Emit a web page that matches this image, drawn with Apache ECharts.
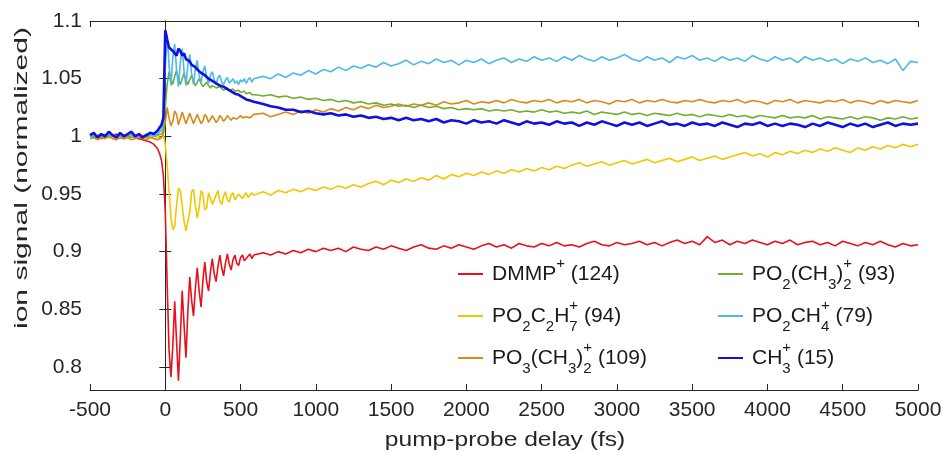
<!DOCTYPE html>
<html>
<head>
<meta charset="utf-8">
<script src="https://cdn.jsdelivr.net/npm/echarts@6/dist/echarts.min.js"></script>
<style>
  html, body { margin: 0; padding: 0; background: #fff; }
  #chart { width: 945px; height: 452px; }
</style>
</head>
<body>
<div id="chart"></div>
<script>
// pump-probe delays (fs): coarse before t0, fine over the wave packet, coarse afterwards
const delays = [
  -500, -475, -450, -425, -400, -375, -350, -325, -300, -275, -250, -225, -200, -175, -150, -125, -100, -75, -50,
  -37.5, -25, -12.5, 0, 12.5, 25, 37.5, 50, 62.5, 75, 87.5, 100,
  112.5, 125, 137.5, 150, 162.5, 175, 187.5, 200, 212.5, 225, 237.5, 250,
  262.5, 275, 287.5, 300, 312.5, 325, 337.5, 350, 362.5, 375, 387.5, 400,
  412.5, 425, 437.5, 450, 462.5, 475, 487.5, 500, 512.5, 525, 537.5, 550,
  562.5, 575, 587.5,
  600, 650, 700, 750, 800, 850, 900, 950, 1000, 1050,
  1100, 1150, 1200, 1250, 1300, 1350, 1400, 1450, 1500, 1550,
  1600, 1650, 1700, 1750, 1800, 1850, 1900, 1950, 2000, 2050,
  2100, 2150, 2200, 2250, 2300, 2350, 2400, 2450, 2500, 2550,
  2600, 2650, 2700, 2750, 2800, 2850, 2900, 2950, 3000, 3050,
  3100, 3150, 3200, 3250, 3300, 3350, 3400, 3450, 3500, 3550,
  3600, 3650, 3700, 3750, 3800, 3850, 3900, 3950, 4000, 4050,
  4100, 4150, 4200, 4250, 4300, 4350, 4400, 4450, 4500, 4550,
  4600, 4650, 4700, 4750, 4800, 4850, 4900, 4950, 5000
];

const dmmp = [
  1.001, 0.999, 1.000, 0.998, 1.001, 0.999, 1.000, 1.002, 0.999, 0.998, 1.000, 1.001, 0.999, 0.998, 0.997, 0.996, 0.995, 0.993, 0.989,
  0.985, 0.979, 0.966, 0.935, 0.872, 0.815, 0.791, 0.818, 0.857, 0.822, 0.788, 0.826,
  0.866, 0.836, 0.808, 0.848, 0.878, 0.858, 0.844, 0.868, 0.886, 0.866, 0.852, 0.875,
  0.891, 0.874, 0.866, 0.882, 0.894, 0.881, 0.874, 0.887, 0.897, 0.886, 0.879, 0.890,
  0.898, 0.889, 0.884, 0.893, 0.897, 0.890, 0.888, 0.895, 0.897, 0.892, 0.891, 0.896,
  0.898, 0.894, 0.897,
  0.896, 0.899, 0.897, 0.900, 0.898, 0.901, 0.899, 0.902, 0.900, 0.903,
  0.901, 0.903, 0.900, 0.904, 0.902, 0.901, 0.904, 0.902, 0.905, 0.903,
  0.901, 0.904, 0.906, 0.903, 0.902, 0.905, 0.903, 0.906, 0.904, 0.902,
  0.905, 0.907, 0.904, 0.906, 0.903, 0.907, 0.905, 0.904, 0.907, 0.905,
  0.908, 0.905, 0.906, 0.904, 0.907, 0.909, 0.906, 0.905, 0.908, 0.906,
  0.907, 0.909, 0.906, 0.908, 0.905, 0.908, 0.910, 0.907, 0.909, 0.906,
  0.913, 0.908, 0.910, 0.906, 0.909, 0.907, 0.910, 0.908, 0.906, 0.909,
  0.907, 0.910, 0.906, 0.908, 0.909, 0.906, 0.908, 0.905, 0.909, 0.907,
  0.905, 0.908, 0.906, 0.909, 0.906, 0.904, 0.907, 0.905, 0.906
];

const po2c2h7 = [
  1.000, 1.001, 0.999, 1.000, 1.002, 0.999, 1.000, 0.998, 1.001, 1.000, 0.999, 1.001, 1.000, 0.999, 1.001, 1.000, 0.999, 1.000, 0.999,
  1.000, 0.999, 1.001, 0.993, 0.975, 0.952, 0.930, 0.919, 0.922, 0.940, 0.955, 0.953,
  0.940, 0.926, 0.918, 0.918, 0.934, 0.952, 0.954, 0.940, 0.929, 0.938, 0.953, 0.950,
  0.936, 0.938, 0.951, 0.952, 0.941, 0.940, 0.949, 0.953, 0.944, 0.941, 0.948, 0.952,
  0.945, 0.943, 0.949, 0.951, 0.945, 0.946, 0.950, 0.948, 0.946, 0.949, 0.951, 0.947,
  0.948, 0.951, 0.949,
  0.950, 0.952, 0.949, 0.953, 0.951, 0.954, 0.952, 0.955, 0.953, 0.956,
  0.954, 0.957, 0.955, 0.958, 0.956, 0.959, 0.961, 0.958, 0.962, 0.960,
  0.963, 0.961, 0.964, 0.962, 0.966, 0.963, 0.967, 0.965, 0.968, 0.966,
  0.969, 0.967, 0.970, 0.968, 0.971, 0.969, 0.972, 0.970, 0.973, 0.971,
  0.974, 0.972, 0.975, 0.977, 0.974, 0.976, 0.978, 0.975, 0.977, 0.979,
  0.976, 0.978, 0.980, 0.977, 0.979, 0.981, 0.978, 0.980, 0.982, 0.979,
  0.981, 0.983, 0.980, 0.982, 0.984, 0.986, 0.983, 0.985, 0.982, 0.986,
  0.984, 0.987, 0.985, 0.988, 0.986, 0.989, 0.987, 0.990, 0.988, 0.986,
  0.990, 0.988, 0.991, 0.989, 0.992, 0.990, 0.993, 0.991, 0.993
];

const po3ch32 = [
  0.998, 0.999, 0.997, 0.999, 0.998, 1.000, 0.998, 0.997, 0.999, 0.998, 0.999, 0.997, 0.998, 1.000, 0.998, 0.997, 0.999, 0.998, 0.997,
  0.998, 0.999, 1.002, 1.012, 1.025, 1.016, 1.009, 1.013, 1.022, 1.019, 1.010, 1.011,
  1.021, 1.020, 1.011, 1.012, 1.020, 1.019, 1.011, 1.012, 1.019, 1.018, 1.011, 1.013,
  1.019, 1.017, 1.012, 1.013, 1.018, 1.017, 1.012, 1.014, 1.018, 1.016, 1.013, 1.015,
  1.018, 1.016, 1.014, 1.016, 1.017, 1.015, 1.016, 1.018, 1.016, 1.015, 1.017, 1.018,
  1.016, 1.017, 1.019,
  1.018, 1.020, 1.017, 1.019, 1.021, 1.019, 1.022, 1.020, 1.023, 1.021,
  1.024, 1.022, 1.025, 1.023, 1.026, 1.024, 1.027, 1.025, 1.026, 1.028,
  1.026, 1.028, 1.027, 1.029, 1.027, 1.030, 1.028, 1.029, 1.031, 1.028,
  1.030, 1.029, 1.031, 1.029, 1.032, 1.030, 1.029, 1.031, 1.030, 1.032,
  1.029, 1.031, 1.030, 1.032, 1.029, 1.031, 1.030, 1.028, 1.031, 1.030,
  1.032, 1.029, 1.031, 1.030, 1.032, 1.030, 1.029, 1.031, 1.030, 1.032,
  1.030, 1.029, 1.031, 1.030, 1.032, 1.029, 1.031, 1.030, 1.028, 1.031,
  1.030, 1.032, 1.029, 1.031, 1.030, 1.029, 1.031, 1.030, 1.032, 1.029,
  1.031, 1.030, 1.028, 1.031, 1.029, 1.031, 1.030, 1.029, 1.031
];

const po2ch32 = [
  1.000, 0.999, 1.001, 1.000, 0.999, 1.001, 1.000, 1.000, 0.999, 1.001, 1.000, 0.999, 1.001, 1.000, 1.000, 0.999, 1.001, 1.000, 1.001,
  1.001, 1.002, 1.006, 1.025, 1.045, 1.056, 1.050, 1.045, 1.052, 1.057, 1.050, 1.045,
  1.050, 1.055, 1.049, 1.045, 1.049, 1.053, 1.048, 1.044, 1.047, 1.050, 1.046, 1.043,
  1.045, 1.047, 1.044, 1.042, 1.044, 1.045, 1.042, 1.041, 1.043, 1.042, 1.040, 1.041,
  1.042, 1.040, 1.039, 1.041, 1.039, 1.038, 1.040, 1.038, 1.037, 1.039, 1.037, 1.036,
  1.038, 1.036, 1.037,
  1.036, 1.035, 1.036, 1.034, 1.035, 1.033, 1.034, 1.032, 1.033, 1.031,
  1.032, 1.030, 1.031, 1.029, 1.030, 1.028, 1.029, 1.027, 1.028, 1.026,
  1.027, 1.025, 1.027, 1.025, 1.026, 1.024, 1.025, 1.023, 1.024, 1.023,
  1.024, 1.022, 1.023, 1.022, 1.023, 1.021, 1.022, 1.021, 1.023, 1.021,
  1.022, 1.020, 1.021, 1.020, 1.022, 1.019, 1.021, 1.020, 1.019, 1.021,
  1.019, 1.020, 1.018, 1.020, 1.019, 1.018, 1.020, 1.018, 1.019, 1.017,
  1.019, 1.018, 1.017, 1.019, 1.017, 1.018, 1.016, 1.018, 1.017, 1.016,
  1.018, 1.016, 1.017, 1.016, 1.018, 1.015, 1.017, 1.016, 1.015, 1.017,
  1.015, 1.017, 1.016, 1.014, 1.016, 1.015, 1.017, 1.015, 1.016
];

const po2ch4 = [
  1.000, 1.001, 0.999, 1.001, 1.000, 1.002, 1.000, 0.999, 1.001, 1.000, 1.002, 1.001, 0.999, 1.001, 1.000, 1.002, 1.001, 1.000, 1.002,
  1.003, 1.006, 1.012, 1.060, 1.088, 1.062, 1.044, 1.068, 1.080, 1.058, 1.043, 1.064,
  1.076, 1.056, 1.044, 1.062, 1.071, 1.054, 1.045, 1.059, 1.066, 1.053, 1.046, 1.056,
  1.061, 1.051, 1.046, 1.053, 1.056, 1.049, 1.045, 1.051, 1.053, 1.047, 1.045, 1.049,
  1.051, 1.046, 1.047, 1.050, 1.046, 1.048, 1.045, 1.049, 1.047, 1.050, 1.046, 1.049,
  1.051, 1.047, 1.050,
  1.049, 1.052, 1.050, 1.054, 1.051, 1.055, 1.053, 1.057, 1.054, 1.058,
  1.056, 1.060, 1.057, 1.061, 1.059, 1.062, 1.060, 1.064, 1.061, 1.063,
  1.066, 1.062, 1.065, 1.063, 1.067, 1.064, 1.066, 1.062, 1.066, 1.064,
  1.067, 1.063, 1.066, 1.068, 1.064, 1.067, 1.065, 1.069, 1.066, 1.068,
  1.065, 1.069, 1.066, 1.070, 1.067, 1.065, 1.069, 1.066, 1.068, 1.071,
  1.067, 1.065, 1.069, 1.066, 1.068, 1.064, 1.069, 1.067, 1.070, 1.066,
  1.068, 1.065, 1.069, 1.066, 1.068, 1.065, 1.070, 1.067, 1.065, 1.069,
  1.066, 1.068, 1.064, 1.069, 1.066, 1.068, 1.065, 1.067, 1.063, 1.067,
  1.065, 1.068, 1.064, 1.066, 1.063, 1.067, 1.057, 1.065, 1.064
];

const ch3 = [
  1.001, 1.003, 0.999, 1.002, 1.000, 1.004, 1.001, 0.999, 1.003, 1.000, 1.002, 1.004, 1.000, 1.002, 0.999, 1.001, 1.003, 1.002, 1.005,
  1.006, 1.010, 1.016, 1.092, 1.084, 1.077, 1.078, 1.074, 1.073, 1.070, 1.076, 1.074,
  1.070, 1.072, 1.067, 1.066, 1.065, 1.062, 1.063, 1.060, 1.058, 1.058, 1.055, 1.055,
  1.053, 1.053, 1.050, 1.050, 1.048, 1.048, 1.046, 1.047, 1.044, 1.044, 1.043, 1.042,
  1.041, 1.041, 1.039, 1.039, 1.037, 1.038, 1.036, 1.036, 1.034, 1.034, 1.032, 1.033,
  1.031, 1.031, 1.030,
  1.029, 1.028, 1.026, 1.025, 1.023, 1.023, 1.021, 1.022, 1.020, 1.019,
  1.020, 1.018, 1.019, 1.017, 1.018, 1.016, 1.017, 1.015, 1.016, 1.014,
  1.016, 1.014, 1.015, 1.013, 1.015, 1.012, 1.014, 1.013, 1.011, 1.014,
  1.012, 1.013, 1.011, 1.014, 1.012, 1.010, 1.013, 1.011, 1.012, 1.010,
  1.013, 1.011, 1.012, 1.009, 1.012, 1.010, 1.013, 1.011, 1.009, 1.012,
  1.010, 1.012, 1.009, 1.011, 1.013, 1.010, 1.011, 1.009, 1.012, 1.010,
  1.011, 1.009, 1.012, 1.010, 1.008, 1.011, 1.010, 1.012, 1.009, 1.011,
  1.009, 1.011, 1.010, 1.008, 1.011, 1.009, 1.012, 1.010, 1.008, 1.011,
  1.009, 1.011, 1.008, 1.010, 1.012, 1.009, 1.011, 1.010, 1.011
];

const ionNames = ['DMMP+ (124)', 'PO2C2H7+ (94)', 'PO3(CH3)2+ (109)', 'PO2(CH3)2+ (93)', 'PO2CH4+ (79)', 'CH3+ (15)'];
const ionLabels = [
  '{n|DMMP}{sup|+}{n| (124)}',
  '{n|PO}{sub|2}{n|C}{sub|2}{n|H}{subz|7}{sup|+}{n| (94)}',
  '{n|PO}{sub|3}{n|(CH}{sub|3}{n|)}{subz|2}{sup|+}{n| (109)}',
  '{n|PO}{sub|2}{n|(CH}{sub|3}{n|)}{subz|2}{sup|+}{n| (93)}',
  '{n|PO}{sub|2}{n|CH}{subz|4}{sup|+}{n| (79)}',
  '{n|CH}{subz|3}{sup|+}{n| (15)}'
];
const ionValues = [dmmp, po2c2h7, po3ch32, po2ch32, po2ch4, ch3];
const ionColors = ['#e8101a', '#f2c600', '#d98a16', '#72ad32', '#4cb9e6', '#1010e0'];
const lineWidths = [1.6, 1.6, 1.6, 1.6, 1.6, 2.6];
const yTicks = [0.8, 0.85, 0.9, 0.95, 1, 1.05, 1.1];

const FONT = '"Liberation Sans", Arial, Helvetica, sans-serif';
const INK = '#262626';

const legendSpots = [
  [458, 256], [458, 298], [458, 340],
  [718, 256], [718, 298], [718, 340]
];

const rich = {
  n: { fontSize: 21, fontFamily: FONT, color: '#1a1a1a', lineHeight: 36 },
  sup: { fontSize: 15, fontFamily: FONT, color: '#1a1a1a', lineHeight: 23, verticalAlign: 'top' },
  sub: { fontSize: 15, fontFamily: FONT, color: '#1a1a1a', lineHeight: 18, verticalAlign: 'bottom' },
  subz: { fontSize: 15, fontFamily: FONT, color: '#1a1a1a', lineHeight: 18, verticalAlign: 'bottom', width: 0 }
};

const chart = echarts.init(document.getElementById('chart'), null, { renderer: 'canvas' });

const axisLine = { show: true, lineStyle: { color: INK, width: 1 } };

chart.setOption({
  animation: false,
  backgroundColor: '#fff',
  textStyle: { fontFamily: FONT },
  grid: { left: 90, right: 27, top: 21, bottom: 62 },
  legend: ionNames.map((name, i) => ({
    data: [name],
    left: legendSpots[i][0],
    top: legendSpots[i][1],
    padding: 0,
    icon: 'rect',
    itemWidth: 25,
    itemHeight: 2,
    selectedMode: false,
    formatter: () => ionLabels[i],
    textStyle: { rich, padding: [0, 0, 0, 4] }
  })),
  xAxis: [
    {
      type: 'value', min: -500, max: 5000, interval: 500,
      axisLine, splitLine: { show: false },
      axisTick: { inside: true, length: 6, lineStyle: { color: INK } },
      axisLabel: {
        color: INK, fontSize: 21, fontFamily: FONT, margin: 10, showMinLabel: true, showMaxLabel: true,
        formatter: v => String(v)
      }
    },
    {
      type: 'value', position: 'top', min: -500, max: 5000, interval: 500,
      axisLine, splitLine: { show: false },
      axisTick: { inside: true, length: 6, lineStyle: { color: INK } },
      axisLabel: { show: false }
    }
  ],
  yAxis: [
    {
      type: 'value', min: 0.78, max: 1.1,
      axisLine, splitLine: { show: false },
      axisTick: { inside: true, length: 6, lineStyle: { color: INK }, customValues: yTicks },
      axisLabel: {
        color: INK, fontSize: 21, fontFamily: FONT, margin: 8, customValues: yTicks,
        formatter: v => String(+v.toFixed(2))
      }
    },
    {
      type: 'value', position: 'right', min: 0.78, max: 1.1,
      axisLine, splitLine: { show: false },
      axisTick: { inside: true, length: 6, lineStyle: { color: INK }, customValues: yTicks },
      axisLabel: { show: false }
    }
  ],
  series: ionNames.map((name, i) => ({
    name,
    type: 'line',
    symbol: 'none',
    showSymbol: false,
    xAxisIndex: 0,
    yAxisIndex: 0,
    z: 2 + i,
    color: ionColors[i],
    lineStyle: { color: ionColors[i], width: lineWidths[i] },
    data: delays.map((t, k) => [t, ionValues[i][k]])
  })),
  graphic: [
    {
      type: 'text', x: 22, y: 178, rotation: Math.PI / 2, scaleX: 1.58,
      style: { text: 'ion signal (normalized)', font: '19px ' + FONT, fill: INK, align: 'center', verticalAlign: 'middle' }
    },
    {
      type: 'text', x: 505, y: 440, scaleX: 1.17,
      style: { text: 'pump-probe delay (fs)', font: '21px ' + FONT, fill: INK, align: 'center', verticalAlign: 'middle' }
    }
  ]
});
</script>
</body>
</html>
